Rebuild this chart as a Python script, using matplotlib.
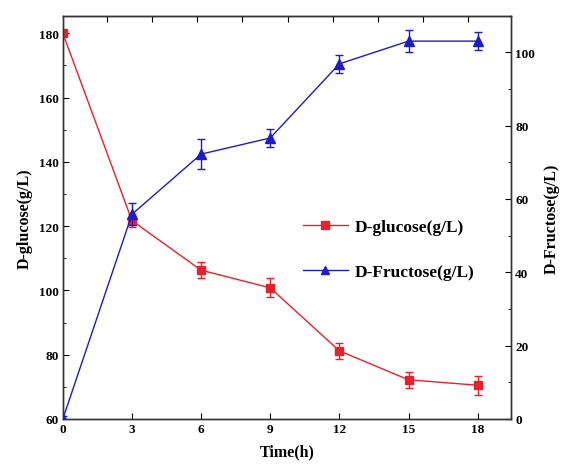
import numpy as np
import matplotlib
matplotlib.use("Agg")
import matplotlib.pyplot as plt
from matplotlib.lines import Line2D

# data
time_h = [0, 3, 6, 9, 12, 15, 18]
glucose = [180, 121.7, 106.3, 100.8, 81.2, 72.2, 70.5]
glucose_err = [0.8, 2.0, 2.5, 3.0, 2.5, 2.5, 3.0]
fructose = [0, 55.8, 72.2, 76.6, 96.8, 103, 103]
fructose_err = [0.8, 3.0, 4.0, 2.5, 2.5, 3.0, 2.5]
labels = ['D-glucose(g/L)', 'D-Fructose(g/L)']

plt.rcParams['font.family'] = ['Liberation Serif', 'DejaVu Serif']
plt.rcParams['font.weight'] = 'bold'

red = '#e8202a'
blue = '#1c1cc8'

fig = plt.figure(figsize=(5.61, 4.77), dpi=100, facecolor='white')
ax = fig.add_axes([0.112, 0.1195, 0.799, 0.8445])
ax2 = ax.twinx()

ax.errorbar(time_h, glucose, yerr=glucose_err, color=red, marker='s', markersize=6,
            linewidth=1.0, capsize=3, elinewidth=1.0, zorder=3)
ax2.errorbar(time_h, fructose, yerr=fructose_err, color=blue, marker='^', markersize=7,
             linewidth=1.0, capsize=3, elinewidth=1.0, zorder=4)

ax.set_xlim(0, 19.45)
ax.set_ylim(60, 185.3)
ax2.set_ylim(0, 109.8)

ax.set_xticks(time_h)
ax.set_yticks(np.arange(60, 181, 20))
ax.set_yticks(np.arange(70, 181, 20), minor=True)
ax2.set_yticks(np.arange(0, 101, 20))
ax2.set_yticks(np.arange(10, 101, 20), minor=True)

ax.tick_params(axis='both', which='both', direction='in', labelsize=9.5, pad=3)
ax.tick_params(which='major', length=4)
ax.tick_params(which='minor', length=2.5)
ax2.tick_params(axis='y', which='both', direction='in', labelsize=9.5, pad=3)
ax2.tick_params(which='major', length=4)
ax2.tick_params(which='minor', length=2.5)

# top ticks in the original don't line up with the bottom ones
top = ax.secondary_xaxis('top')
top.set_xticks(np.arange(1.91, 19.0, 1.96))
top.tick_params(direction='in', length=4, labeltop=False)

for a in (ax, ax2):
    for s in a.spines.values():
        s.set_linewidth(1.0)
        s.set_color('#333333')

ax.set_xlabel('Time(h)', fontsize=11.5, fontweight='bold', labelpad=6)
ax.set_ylabel(labels[0], fontsize=11.5, fontweight='bold', labelpad=4)
ax2.set_ylabel(labels[1], fontsize=11.5, fontweight='bold', labelpad=6)

handles = [Line2D([], [], color=red, marker='s', markersize=6, linewidth=1.0),
           Line2D([], [], color=blue, marker='^', markersize=6, linewidth=1.0)]
leg = ax2.legend(handles, labels, loc='center left', bbox_to_anchor=(0.50, 0.42),
                 frameon=False, fontsize=12.5, handlelength=2.6, labelspacing=1.65,
                 handletextpad=0.4)
leg.set_zorder(10)

fig.savefig('out.png', dpi=100, facecolor='white')
